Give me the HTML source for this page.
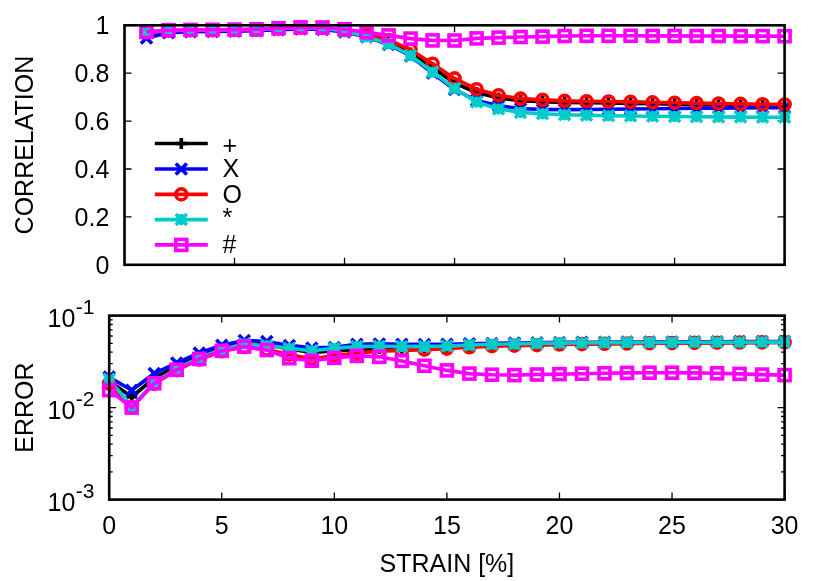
<!DOCTYPE html>
<html><head><meta charset="utf-8"><title>plot</title>
<style>html,body{margin:0;padding:0;background:#fff;}body{width:830px;height:581px;position:relative;overflow:hidden;font-family:"Liberation Sans",sans-serif;}</style>
</head><body>
<svg width="830" height="581" viewBox="0 0 830 581" style="display:block;position:absolute;left:0;top:0">
<rect width="830" height="581" fill="#ffffff"/>
<path d="M124.5 264.80h7.0M784.6 264.80h-7.0M124.5 216.90h7.0M784.6 216.90h-7.0M124.5 169.00h7.0M784.6 169.00h-7.0M124.5 121.10h7.0M784.6 121.10h-7.0M124.5 73.20h7.0M784.6 73.20h-7.0M124.5 25.30h7.0M784.6 25.30h-7.0M124.50 264.8v-7.0M124.50 25.3v7.0M234.52 264.8v-7.0M234.52 25.3v7.0M344.53 264.8v-7.0M344.53 25.3v7.0M454.55 264.8v-7.0M454.55 25.3v7.0M564.57 264.8v-7.0M564.57 25.3v7.0M674.58 264.8v-7.0M674.58 25.3v7.0M784.60 264.8v-7.0M784.60 25.3v7.0" stroke="#000" stroke-width="1.3" fill="none"/>
<g>
<polyline points="146.50,32.50 168.51,31.00 190.51,30.60 212.51,30.40 234.52,30.20 256.52,29.80 278.52,28.80 300.53,28.00 322.53,28.30 344.53,30.50 366.54,35.00 388.54,42.00 410.54,53.00 432.55,67.80 454.55,83.10 476.55,92.50 498.56,98.00 520.56,100.60 542.56,101.60 564.57,102.40 586.57,102.70 608.57,103.00 630.58,103.40 652.58,103.80 674.58,104.20 696.59,104.60 718.59,105.00 740.59,105.30 762.60,105.60 784.60,105.90" fill="none" stroke="#000000" stroke-width="3.6" stroke-linejoin="round"/>
<path d="M141.00 32.50H152.00M146.50 27.00V38.00" stroke="#000000" stroke-width="3.6" fill="none"/>
<path d="M163.01 31.00H174.01M168.51 25.50V36.50" stroke="#000000" stroke-width="3.6" fill="none"/>
<path d="M185.01 30.60H196.01M190.51 25.10V36.10" stroke="#000000" stroke-width="3.6" fill="none"/>
<path d="M207.01 30.40H218.01M212.51 24.90V35.90" stroke="#000000" stroke-width="3.6" fill="none"/>
<path d="M229.02 30.20H240.02M234.52 24.70V35.70" stroke="#000000" stroke-width="3.6" fill="none"/>
<path d="M251.02 29.80H262.02M256.52 24.30V35.30" stroke="#000000" stroke-width="3.6" fill="none"/>
<path d="M273.02 28.80H284.02M278.52 23.30V34.30" stroke="#000000" stroke-width="3.6" fill="none"/>
<path d="M295.03 28.00H306.03M300.53 22.50V33.50" stroke="#000000" stroke-width="3.6" fill="none"/>
<path d="M317.03 28.30H328.03M322.53 22.80V33.80" stroke="#000000" stroke-width="3.6" fill="none"/>
<path d="M339.03 30.50H350.03M344.53 25.00V36.00" stroke="#000000" stroke-width="3.6" fill="none"/>
<path d="M361.04 35.00H372.04M366.54 29.50V40.50" stroke="#000000" stroke-width="3.6" fill="none"/>
<path d="M383.04 42.00H394.04M388.54 36.50V47.50" stroke="#000000" stroke-width="3.6" fill="none"/>
<path d="M405.04 53.00H416.04M410.54 47.50V58.50" stroke="#000000" stroke-width="3.6" fill="none"/>
<path d="M427.05 67.80H438.05M432.55 62.30V73.30" stroke="#000000" stroke-width="3.6" fill="none"/>
<path d="M449.05 83.10H460.05M454.55 77.60V88.60" stroke="#000000" stroke-width="3.6" fill="none"/>
<path d="M471.05 92.50H482.05M476.55 87.00V98.00" stroke="#000000" stroke-width="3.6" fill="none"/>
<path d="M493.06 98.00H504.06M498.56 92.50V103.50" stroke="#000000" stroke-width="3.6" fill="none"/>
<path d="M515.06 100.60H526.06M520.56 95.10V106.10" stroke="#000000" stroke-width="3.6" fill="none"/>
<path d="M537.06 101.60H548.06M542.56 96.10V107.10" stroke="#000000" stroke-width="3.6" fill="none"/>
<path d="M559.07 102.40H570.07M564.57 96.90V107.90" stroke="#000000" stroke-width="3.6" fill="none"/>
<path d="M581.07 102.70H592.07M586.57 97.20V108.20" stroke="#000000" stroke-width="3.6" fill="none"/>
<path d="M603.07 103.00H614.07M608.57 97.50V108.50" stroke="#000000" stroke-width="3.6" fill="none"/>
<path d="M625.08 103.40H636.08M630.58 97.90V108.90" stroke="#000000" stroke-width="3.6" fill="none"/>
<path d="M647.08 103.80H658.08M652.58 98.30V109.30" stroke="#000000" stroke-width="3.6" fill="none"/>
<path d="M669.08 104.20H680.08M674.58 98.70V109.70" stroke="#000000" stroke-width="3.6" fill="none"/>
<path d="M691.09 104.60H702.09M696.59 99.10V110.10" stroke="#000000" stroke-width="3.6" fill="none"/>
<path d="M713.09 105.00H724.09M718.59 99.50V110.50" stroke="#000000" stroke-width="3.6" fill="none"/>
<path d="M735.09 105.30H746.09M740.59 99.80V110.80" stroke="#000000" stroke-width="3.6" fill="none"/>
<path d="M757.10 105.60H768.10M762.60 100.10V111.10" stroke="#000000" stroke-width="3.6" fill="none"/>
<path d="M779.10 105.90H790.10M784.60 100.40V111.40" stroke="#000000" stroke-width="3.6" fill="none"/>
<polyline points="146.50,38.00 168.51,32.80 190.51,31.80 212.51,31.50 234.52,31.20 256.52,30.80 278.52,29.80 300.53,29.00 322.53,29.50 344.53,32.00 366.54,37.00 388.54,44.50 410.54,56.00 432.55,73.00 454.55,89.50 476.55,100.50 498.56,105.80 520.56,108.50 542.56,109.50 564.57,109.60 586.57,109.50 608.57,109.30 630.58,109.00 652.58,108.70 674.58,108.50 696.59,108.30 718.59,108.10 740.59,108.00 762.60,107.80 784.60,107.70" fill="none" stroke="#0000ff" stroke-width="3.6" stroke-linejoin="round"/>
<path d="M141.00 32.50L152.00 43.50M141.00 43.50L152.00 32.50" stroke="#0000ff" stroke-width="3.6" fill="none"/>
<path d="M163.01 27.30L174.01 38.30M163.01 38.30L174.01 27.30" stroke="#0000ff" stroke-width="3.6" fill="none"/>
<path d="M185.01 26.30L196.01 37.30M185.01 37.30L196.01 26.30" stroke="#0000ff" stroke-width="3.6" fill="none"/>
<path d="M207.01 26.00L218.01 37.00M207.01 37.00L218.01 26.00" stroke="#0000ff" stroke-width="3.6" fill="none"/>
<path d="M229.02 25.70L240.02 36.70M229.02 36.70L240.02 25.70" stroke="#0000ff" stroke-width="3.6" fill="none"/>
<path d="M251.02 25.30L262.02 36.30M251.02 36.30L262.02 25.30" stroke="#0000ff" stroke-width="3.6" fill="none"/>
<path d="M273.02 24.30L284.02 35.30M273.02 35.30L284.02 24.30" stroke="#0000ff" stroke-width="3.6" fill="none"/>
<path d="M295.03 23.50L306.03 34.50M295.03 34.50L306.03 23.50" stroke="#0000ff" stroke-width="3.6" fill="none"/>
<path d="M317.03 24.00L328.03 35.00M317.03 35.00L328.03 24.00" stroke="#0000ff" stroke-width="3.6" fill="none"/>
<path d="M339.03 26.50L350.03 37.50M339.03 37.50L350.03 26.50" stroke="#0000ff" stroke-width="3.6" fill="none"/>
<path d="M361.04 31.50L372.04 42.50M361.04 42.50L372.04 31.50" stroke="#0000ff" stroke-width="3.6" fill="none"/>
<path d="M383.04 39.00L394.04 50.00M383.04 50.00L394.04 39.00" stroke="#0000ff" stroke-width="3.6" fill="none"/>
<path d="M405.04 50.50L416.04 61.50M405.04 61.50L416.04 50.50" stroke="#0000ff" stroke-width="3.6" fill="none"/>
<path d="M427.05 67.50L438.05 78.50M427.05 78.50L438.05 67.50" stroke="#0000ff" stroke-width="3.6" fill="none"/>
<path d="M449.05 84.00L460.05 95.00M449.05 95.00L460.05 84.00" stroke="#0000ff" stroke-width="3.6" fill="none"/>
<path d="M471.05 95.00L482.05 106.00M471.05 106.00L482.05 95.00" stroke="#0000ff" stroke-width="3.6" fill="none"/>
<path d="M493.06 100.30L504.06 111.30M493.06 111.30L504.06 100.30" stroke="#0000ff" stroke-width="3.6" fill="none"/>
<path d="M515.06 103.00L526.06 114.00M515.06 114.00L526.06 103.00" stroke="#0000ff" stroke-width="3.6" fill="none"/>
<path d="M537.06 104.00L548.06 115.00M537.06 115.00L548.06 104.00" stroke="#0000ff" stroke-width="3.6" fill="none"/>
<path d="M559.07 104.10L570.07 115.10M559.07 115.10L570.07 104.10" stroke="#0000ff" stroke-width="3.6" fill="none"/>
<path d="M581.07 104.00L592.07 115.00M581.07 115.00L592.07 104.00" stroke="#0000ff" stroke-width="3.6" fill="none"/>
<path d="M603.07 103.80L614.07 114.80M603.07 114.80L614.07 103.80" stroke="#0000ff" stroke-width="3.6" fill="none"/>
<path d="M625.08 103.50L636.08 114.50M625.08 114.50L636.08 103.50" stroke="#0000ff" stroke-width="3.6" fill="none"/>
<path d="M647.08 103.20L658.08 114.20M647.08 114.20L658.08 103.20" stroke="#0000ff" stroke-width="3.6" fill="none"/>
<path d="M669.08 103.00L680.08 114.00M669.08 114.00L680.08 103.00" stroke="#0000ff" stroke-width="3.6" fill="none"/>
<path d="M691.09 102.80L702.09 113.80M691.09 113.80L702.09 102.80" stroke="#0000ff" stroke-width="3.6" fill="none"/>
<path d="M713.09 102.60L724.09 113.60M713.09 113.60L724.09 102.60" stroke="#0000ff" stroke-width="3.6" fill="none"/>
<path d="M735.09 102.50L746.09 113.50M735.09 113.50L746.09 102.50" stroke="#0000ff" stroke-width="3.6" fill="none"/>
<path d="M757.10 102.30L768.10 113.30M757.10 113.30L768.10 102.30" stroke="#0000ff" stroke-width="3.6" fill="none"/>
<path d="M779.10 102.20L790.10 113.20M779.10 113.20L790.10 102.20" stroke="#0000ff" stroke-width="3.6" fill="none"/>
<polyline points="146.50,32.20 168.51,30.60 190.51,30.30 212.51,30.10 234.52,29.90 256.52,29.60 278.52,28.50 300.53,27.70 322.53,28.00 344.53,30.00 366.54,34.00 388.54,40.00 410.54,49.70 432.55,63.70 454.55,78.40 476.55,89.20 498.56,95.30 520.56,98.60 542.56,99.90 564.57,100.90 586.57,101.20 608.57,101.50 630.58,101.90 652.58,102.30 674.58,102.70 696.59,103.10 718.59,103.50 740.59,103.90 762.60,104.20 784.60,104.50" fill="none" stroke="#ff0000" stroke-width="3.6" stroke-linejoin="round"/>
<circle cx="146.50" cy="32.20" r="5.50" stroke="#ff0000" stroke-width="3.6" fill="none"/>
<circle cx="168.51" cy="30.60" r="5.50" stroke="#ff0000" stroke-width="3.6" fill="none"/>
<circle cx="190.51" cy="30.30" r="5.50" stroke="#ff0000" stroke-width="3.6" fill="none"/>
<circle cx="212.51" cy="30.10" r="5.50" stroke="#ff0000" stroke-width="3.6" fill="none"/>
<circle cx="234.52" cy="29.90" r="5.50" stroke="#ff0000" stroke-width="3.6" fill="none"/>
<circle cx="256.52" cy="29.60" r="5.50" stroke="#ff0000" stroke-width="3.6" fill="none"/>
<circle cx="278.52" cy="28.50" r="5.50" stroke="#ff0000" stroke-width="3.6" fill="none"/>
<circle cx="300.53" cy="27.70" r="5.50" stroke="#ff0000" stroke-width="3.6" fill="none"/>
<circle cx="322.53" cy="28.00" r="5.50" stroke="#ff0000" stroke-width="3.6" fill="none"/>
<circle cx="344.53" cy="30.00" r="5.50" stroke="#ff0000" stroke-width="3.6" fill="none"/>
<circle cx="366.54" cy="34.00" r="5.50" stroke="#ff0000" stroke-width="3.6" fill="none"/>
<circle cx="388.54" cy="40.00" r="5.50" stroke="#ff0000" stroke-width="3.6" fill="none"/>
<circle cx="410.54" cy="49.70" r="5.50" stroke="#ff0000" stroke-width="3.6" fill="none"/>
<circle cx="432.55" cy="63.70" r="5.50" stroke="#ff0000" stroke-width="3.6" fill="none"/>
<circle cx="454.55" cy="78.40" r="5.50" stroke="#ff0000" stroke-width="3.6" fill="none"/>
<circle cx="476.55" cy="89.20" r="5.50" stroke="#ff0000" stroke-width="3.6" fill="none"/>
<circle cx="498.56" cy="95.30" r="5.50" stroke="#ff0000" stroke-width="3.6" fill="none"/>
<circle cx="520.56" cy="98.60" r="5.50" stroke="#ff0000" stroke-width="3.6" fill="none"/>
<circle cx="542.56" cy="99.90" r="5.50" stroke="#ff0000" stroke-width="3.6" fill="none"/>
<circle cx="564.57" cy="100.90" r="5.50" stroke="#ff0000" stroke-width="3.6" fill="none"/>
<circle cx="586.57" cy="101.20" r="5.50" stroke="#ff0000" stroke-width="3.6" fill="none"/>
<circle cx="608.57" cy="101.50" r="5.50" stroke="#ff0000" stroke-width="3.6" fill="none"/>
<circle cx="630.58" cy="101.90" r="5.50" stroke="#ff0000" stroke-width="3.6" fill="none"/>
<circle cx="652.58" cy="102.30" r="5.50" stroke="#ff0000" stroke-width="3.6" fill="none"/>
<circle cx="674.58" cy="102.70" r="5.50" stroke="#ff0000" stroke-width="3.6" fill="none"/>
<circle cx="696.59" cy="103.10" r="5.50" stroke="#ff0000" stroke-width="3.6" fill="none"/>
<circle cx="718.59" cy="103.50" r="5.50" stroke="#ff0000" stroke-width="3.6" fill="none"/>
<circle cx="740.59" cy="103.90" r="5.50" stroke="#ff0000" stroke-width="3.6" fill="none"/>
<circle cx="762.60" cy="104.20" r="5.50" stroke="#ff0000" stroke-width="3.6" fill="none"/>
<circle cx="784.60" cy="104.50" r="5.50" stroke="#ff0000" stroke-width="3.6" fill="none"/>
<polyline points="146.50,31.90 168.51,30.40 190.51,30.10 212.51,29.90 234.52,29.70 256.52,29.40 278.52,28.40 300.53,27.60 322.53,28.30 344.53,31.00 366.54,36.70 388.54,43.70 410.54,55.50 432.55,71.90 454.55,88.60 476.55,102.00 498.56,109.00 520.56,112.40 542.56,113.70 564.57,114.70 586.57,115.30 608.57,115.70 630.58,116.00 652.58,116.30 674.58,116.50 696.59,116.70 718.59,116.90 740.59,117.10 762.60,117.20 784.60,117.30" fill="none" stroke="#00cbcb" stroke-width="3.6" stroke-linejoin="round"/>
<path d="M141.00 31.90H152.00M146.50 26.40V37.40M141.00 26.40L152.00 37.40M141.00 37.40L152.00 26.40" stroke="#00cbcb" stroke-width="3.6" fill="none"/>
<path d="M163.01 30.40H174.01M168.51 24.90V35.90M163.01 24.90L174.01 35.90M163.01 35.90L174.01 24.90" stroke="#00cbcb" stroke-width="3.6" fill="none"/>
<path d="M185.01 30.10H196.01M190.51 24.60V35.60M185.01 24.60L196.01 35.60M185.01 35.60L196.01 24.60" stroke="#00cbcb" stroke-width="3.6" fill="none"/>
<path d="M207.01 29.90H218.01M212.51 24.40V35.40M207.01 24.40L218.01 35.40M207.01 35.40L218.01 24.40" stroke="#00cbcb" stroke-width="3.6" fill="none"/>
<path d="M229.02 29.70H240.02M234.52 24.20V35.20M229.02 24.20L240.02 35.20M229.02 35.20L240.02 24.20" stroke="#00cbcb" stroke-width="3.6" fill="none"/>
<path d="M251.02 29.40H262.02M256.52 23.90V34.90M251.02 23.90L262.02 34.90M251.02 34.90L262.02 23.90" stroke="#00cbcb" stroke-width="3.6" fill="none"/>
<path d="M273.02 28.40H284.02M278.52 22.90V33.90M273.02 22.90L284.02 33.90M273.02 33.90L284.02 22.90" stroke="#00cbcb" stroke-width="3.6" fill="none"/>
<path d="M295.03 27.60H306.03M300.53 22.10V33.10M295.03 22.10L306.03 33.10M295.03 33.10L306.03 22.10" stroke="#00cbcb" stroke-width="3.6" fill="none"/>
<path d="M317.03 28.30H328.03M322.53 22.80V33.80M317.03 22.80L328.03 33.80M317.03 33.80L328.03 22.80" stroke="#00cbcb" stroke-width="3.6" fill="none"/>
<path d="M339.03 31.00H350.03M344.53 25.50V36.50M339.03 25.50L350.03 36.50M339.03 36.50L350.03 25.50" stroke="#00cbcb" stroke-width="3.6" fill="none"/>
<path d="M361.04 36.70H372.04M366.54 31.20V42.20M361.04 31.20L372.04 42.20M361.04 42.20L372.04 31.20" stroke="#00cbcb" stroke-width="3.6" fill="none"/>
<path d="M383.04 43.70H394.04M388.54 38.20V49.20M383.04 38.20L394.04 49.20M383.04 49.20L394.04 38.20" stroke="#00cbcb" stroke-width="3.6" fill="none"/>
<path d="M405.04 55.50H416.04M410.54 50.00V61.00M405.04 50.00L416.04 61.00M405.04 61.00L416.04 50.00" stroke="#00cbcb" stroke-width="3.6" fill="none"/>
<path d="M427.05 71.90H438.05M432.55 66.40V77.40M427.05 66.40L438.05 77.40M427.05 77.40L438.05 66.40" stroke="#00cbcb" stroke-width="3.6" fill="none"/>
<path d="M449.05 88.60H460.05M454.55 83.10V94.10M449.05 83.10L460.05 94.10M449.05 94.10L460.05 83.10" stroke="#00cbcb" stroke-width="3.6" fill="none"/>
<path d="M471.05 102.00H482.05M476.55 96.50V107.50M471.05 96.50L482.05 107.50M471.05 107.50L482.05 96.50" stroke="#00cbcb" stroke-width="3.6" fill="none"/>
<path d="M493.06 109.00H504.06M498.56 103.50V114.50M493.06 103.50L504.06 114.50M493.06 114.50L504.06 103.50" stroke="#00cbcb" stroke-width="3.6" fill="none"/>
<path d="M515.06 112.40H526.06M520.56 106.90V117.90M515.06 106.90L526.06 117.90M515.06 117.90L526.06 106.90" stroke="#00cbcb" stroke-width="3.6" fill="none"/>
<path d="M537.06 113.70H548.06M542.56 108.20V119.20M537.06 108.20L548.06 119.20M537.06 119.20L548.06 108.20" stroke="#00cbcb" stroke-width="3.6" fill="none"/>
<path d="M559.07 114.70H570.07M564.57 109.20V120.20M559.07 109.20L570.07 120.20M559.07 120.20L570.07 109.20" stroke="#00cbcb" stroke-width="3.6" fill="none"/>
<path d="M581.07 115.30H592.07M586.57 109.80V120.80M581.07 109.80L592.07 120.80M581.07 120.80L592.07 109.80" stroke="#00cbcb" stroke-width="3.6" fill="none"/>
<path d="M603.07 115.70H614.07M608.57 110.20V121.20M603.07 110.20L614.07 121.20M603.07 121.20L614.07 110.20" stroke="#00cbcb" stroke-width="3.6" fill="none"/>
<path d="M625.08 116.00H636.08M630.58 110.50V121.50M625.08 110.50L636.08 121.50M625.08 121.50L636.08 110.50" stroke="#00cbcb" stroke-width="3.6" fill="none"/>
<path d="M647.08 116.30H658.08M652.58 110.80V121.80M647.08 110.80L658.08 121.80M647.08 121.80L658.08 110.80" stroke="#00cbcb" stroke-width="3.6" fill="none"/>
<path d="M669.08 116.50H680.08M674.58 111.00V122.00M669.08 111.00L680.08 122.00M669.08 122.00L680.08 111.00" stroke="#00cbcb" stroke-width="3.6" fill="none"/>
<path d="M691.09 116.70H702.09M696.59 111.20V122.20M691.09 111.20L702.09 122.20M691.09 122.20L702.09 111.20" stroke="#00cbcb" stroke-width="3.6" fill="none"/>
<path d="M713.09 116.90H724.09M718.59 111.40V122.40M713.09 111.40L724.09 122.40M713.09 122.40L724.09 111.40" stroke="#00cbcb" stroke-width="3.6" fill="none"/>
<path d="M735.09 117.10H746.09M740.59 111.60V122.60M735.09 111.60L746.09 122.60M735.09 122.60L746.09 111.60" stroke="#00cbcb" stroke-width="3.6" fill="none"/>
<path d="M757.10 117.20H768.10M762.60 111.70V122.70M757.10 111.70L768.10 122.70M757.10 122.70L768.10 111.70" stroke="#00cbcb" stroke-width="3.6" fill="none"/>
<path d="M779.10 117.30H790.10M784.60 111.80V122.80M779.10 111.80L790.10 122.80M779.10 122.80L790.10 111.80" stroke="#00cbcb" stroke-width="3.6" fill="none"/>
<polyline points="146.50,31.90 168.51,30.20 190.51,29.90 212.51,29.80 234.52,29.60 256.52,29.30 278.52,28.20 300.53,27.40 322.53,27.50 344.53,29.20 366.54,32.40 388.54,35.40 410.54,38.60 432.55,40.40 454.55,40.50 476.55,38.40 498.56,37.60 520.56,37.00 542.56,36.60 564.57,36.00 586.57,35.80 608.57,35.80 630.58,35.80 652.58,35.90 674.58,35.90 696.59,36.00 718.59,36.00 740.59,36.10 762.60,36.10 784.60,36.20" fill="none" stroke="#ff00ff" stroke-width="3.6" stroke-linejoin="round"/>
<rect x="141.00" y="26.40" width="11.00" height="11.00" stroke="#ff00ff" stroke-width="3.6" fill="none"/>
<rect x="163.01" y="24.70" width="11.00" height="11.00" stroke="#ff00ff" stroke-width="3.6" fill="none"/>
<rect x="185.01" y="24.40" width="11.00" height="11.00" stroke="#ff00ff" stroke-width="3.6" fill="none"/>
<rect x="207.01" y="24.30" width="11.00" height="11.00" stroke="#ff00ff" stroke-width="3.6" fill="none"/>
<rect x="229.02" y="24.10" width="11.00" height="11.00" stroke="#ff00ff" stroke-width="3.6" fill="none"/>
<rect x="251.02" y="23.80" width="11.00" height="11.00" stroke="#ff00ff" stroke-width="3.6" fill="none"/>
<rect x="273.02" y="22.70" width="11.00" height="11.00" stroke="#ff00ff" stroke-width="3.6" fill="none"/>
<rect x="295.03" y="21.90" width="11.00" height="11.00" stroke="#ff00ff" stroke-width="3.6" fill="none"/>
<rect x="317.03" y="22.00" width="11.00" height="11.00" stroke="#ff00ff" stroke-width="3.6" fill="none"/>
<rect x="339.03" y="23.70" width="11.00" height="11.00" stroke="#ff00ff" stroke-width="3.6" fill="none"/>
<rect x="361.04" y="26.90" width="11.00" height="11.00" stroke="#ff00ff" stroke-width="3.6" fill="none"/>
<rect x="383.04" y="29.90" width="11.00" height="11.00" stroke="#ff00ff" stroke-width="3.6" fill="none"/>
<rect x="405.04" y="33.10" width="11.00" height="11.00" stroke="#ff00ff" stroke-width="3.6" fill="none"/>
<rect x="427.05" y="34.90" width="11.00" height="11.00" stroke="#ff00ff" stroke-width="3.6" fill="none"/>
<rect x="449.05" y="35.00" width="11.00" height="11.00" stroke="#ff00ff" stroke-width="3.6" fill="none"/>
<rect x="471.05" y="32.90" width="11.00" height="11.00" stroke="#ff00ff" stroke-width="3.6" fill="none"/>
<rect x="493.06" y="32.10" width="11.00" height="11.00" stroke="#ff00ff" stroke-width="3.6" fill="none"/>
<rect x="515.06" y="31.50" width="11.00" height="11.00" stroke="#ff00ff" stroke-width="3.6" fill="none"/>
<rect x="537.06" y="31.10" width="11.00" height="11.00" stroke="#ff00ff" stroke-width="3.6" fill="none"/>
<rect x="559.07" y="30.50" width="11.00" height="11.00" stroke="#ff00ff" stroke-width="3.6" fill="none"/>
<rect x="581.07" y="30.30" width="11.00" height="11.00" stroke="#ff00ff" stroke-width="3.6" fill="none"/>
<rect x="603.07" y="30.30" width="11.00" height="11.00" stroke="#ff00ff" stroke-width="3.6" fill="none"/>
<rect x="625.08" y="30.30" width="11.00" height="11.00" stroke="#ff00ff" stroke-width="3.6" fill="none"/>
<rect x="647.08" y="30.40" width="11.00" height="11.00" stroke="#ff00ff" stroke-width="3.6" fill="none"/>
<rect x="669.08" y="30.40" width="11.00" height="11.00" stroke="#ff00ff" stroke-width="3.6" fill="none"/>
<rect x="691.09" y="30.50" width="11.00" height="11.00" stroke="#ff00ff" stroke-width="3.6" fill="none"/>
<rect x="713.09" y="30.50" width="11.00" height="11.00" stroke="#ff00ff" stroke-width="3.6" fill="none"/>
<rect x="735.09" y="30.60" width="11.00" height="11.00" stroke="#ff00ff" stroke-width="3.6" fill="none"/>
<rect x="757.10" y="30.60" width="11.00" height="11.00" stroke="#ff00ff" stroke-width="3.6" fill="none"/>
<rect x="779.10" y="30.70" width="11.00" height="11.00" stroke="#ff00ff" stroke-width="3.6" fill="none"/>
</g>
<path d="M154.8 143.5H207.8" stroke="#000000" stroke-width="3.6" fill="none"/>
<path d="M175.80 143.50H186.80M181.30 138.00V149.00" stroke="#000000" stroke-width="3.6" fill="none"/>
<path d="M154.8 169.0H207.8" stroke="#0000ff" stroke-width="3.6" fill="none"/>
<path d="M175.80 163.50L186.80 174.50M175.80 174.50L186.80 163.50" stroke="#0000ff" stroke-width="3.6" fill="none"/>
<path d="M154.8 194.4H207.8" stroke="#ff0000" stroke-width="3.6" fill="none"/>
<circle cx="181.30" cy="194.40" r="5.50" stroke="#ff0000" stroke-width="3.6" fill="none"/>
<path d="M154.8 219.6H207.8" stroke="#00cbcb" stroke-width="3.6" fill="none"/>
<path d="M175.80 219.60H186.80M181.30 214.10V225.10M175.80 214.10L186.80 225.10M175.80 225.10L186.80 214.10" stroke="#00cbcb" stroke-width="3.6" fill="none"/>
<path d="M154.8 244.9H207.8" stroke="#ff00ff" stroke-width="3.6" fill="none"/>
<rect x="175.80" y="239.40" width="11.00" height="11.00" stroke="#ff00ff" stroke-width="3.6" fill="none"/>
<rect x="124.5" y="25.3" width="660.1" height="239.5" fill="none" stroke="#000" stroke-width="2.6"/>
<path d="M109.2 315.60h7.0M784.6 315.60h-7.0M109.2 379.91h3.5M784.6 379.91h-3.5M109.2 363.70h3.5M784.6 363.70h-3.5M109.2 352.21h3.5M784.6 352.21h-3.5M109.2 343.29h3.5M784.6 343.29h-3.5M109.2 336.01h3.5M784.6 336.01h-3.5M109.2 329.85h3.5M784.6 329.85h-3.5M109.2 324.52h3.5M784.6 324.52h-3.5M109.2 319.81h3.5M784.6 319.81h-3.5M109.2 407.60h7.0M784.6 407.60h-7.0M109.2 471.91h3.5M784.6 471.91h-3.5M109.2 455.70h3.5M784.6 455.70h-3.5M109.2 444.21h3.5M784.6 444.21h-3.5M109.2 435.29h3.5M784.6 435.29h-3.5M109.2 428.01h3.5M784.6 428.01h-3.5M109.2 421.85h3.5M784.6 421.85h-3.5M109.2 416.52h3.5M784.6 416.52h-3.5M109.2 411.81h3.5M784.6 411.81h-3.5M109.2 499.60h7.0M784.6 499.60h-7.0M109.20 499.6v-7.0M109.20 315.6v7.0M221.77 499.6v-7.0M221.77 315.6v7.0M334.33 499.6v-7.0M334.33 315.6v7.0M446.90 499.6v-7.0M446.90 315.6v7.0M559.47 499.6v-7.0M559.47 315.6v7.0M672.03 499.6v-7.0M672.03 315.6v7.0M784.60 499.6v-7.0M784.60 315.6v7.0" stroke="#000" stroke-width="1.3" fill="none"/>
<g>
<polyline points="109.20,381.00 131.71,397.00 154.23,378.00 176.74,366.00 199.25,356.00 221.77,348.00 244.28,343.50 266.79,345.00 289.31,349.00 311.82,352.40 334.33,351.00 356.85,349.50 379.36,348.60 401.87,348.20 424.39,347.80 446.90,347.40 469.41,346.60 491.93,345.80 514.44,345.20 536.95,344.60 559.47,344.10 581.98,343.80 604.49,343.60 627.01,343.40 649.52,343.20 672.03,343.00 694.55,342.80 717.06,342.70 739.57,342.60 762.09,342.50 784.60,342.40" fill="none" stroke="#000000" stroke-width="3.6" stroke-linejoin="round"/>
<path d="M103.70 381.00H114.70M109.20 375.50V386.50" stroke="#000000" stroke-width="3.6" fill="none"/>
<path d="M126.21 397.00H137.21M131.71 391.50V402.50" stroke="#000000" stroke-width="3.6" fill="none"/>
<path d="M148.73 378.00H159.73M154.23 372.50V383.50" stroke="#000000" stroke-width="3.6" fill="none"/>
<path d="M171.24 366.00H182.24M176.74 360.50V371.50" stroke="#000000" stroke-width="3.6" fill="none"/>
<path d="M193.75 356.00H204.75M199.25 350.50V361.50" stroke="#000000" stroke-width="3.6" fill="none"/>
<path d="M216.27 348.00H227.27M221.77 342.50V353.50" stroke="#000000" stroke-width="3.6" fill="none"/>
<path d="M238.78 343.50H249.78M244.28 338.00V349.00" stroke="#000000" stroke-width="3.6" fill="none"/>
<path d="M261.29 345.00H272.29M266.79 339.50V350.50" stroke="#000000" stroke-width="3.6" fill="none"/>
<path d="M283.81 349.00H294.81M289.31 343.50V354.50" stroke="#000000" stroke-width="3.6" fill="none"/>
<path d="M306.32 352.40H317.32M311.82 346.90V357.90" stroke="#000000" stroke-width="3.6" fill="none"/>
<path d="M328.83 351.00H339.83M334.33 345.50V356.50" stroke="#000000" stroke-width="3.6" fill="none"/>
<path d="M351.35 349.50H362.35M356.85 344.00V355.00" stroke="#000000" stroke-width="3.6" fill="none"/>
<path d="M373.86 348.60H384.86M379.36 343.10V354.10" stroke="#000000" stroke-width="3.6" fill="none"/>
<path d="M396.37 348.20H407.37M401.87 342.70V353.70" stroke="#000000" stroke-width="3.6" fill="none"/>
<path d="M418.89 347.80H429.89M424.39 342.30V353.30" stroke="#000000" stroke-width="3.6" fill="none"/>
<path d="M441.40 347.40H452.40M446.90 341.90V352.90" stroke="#000000" stroke-width="3.6" fill="none"/>
<path d="M463.91 346.60H474.91M469.41 341.10V352.10" stroke="#000000" stroke-width="3.6" fill="none"/>
<path d="M486.43 345.80H497.43M491.93 340.30V351.30" stroke="#000000" stroke-width="3.6" fill="none"/>
<path d="M508.94 345.20H519.94M514.44 339.70V350.70" stroke="#000000" stroke-width="3.6" fill="none"/>
<path d="M531.45 344.60H542.45M536.95 339.10V350.10" stroke="#000000" stroke-width="3.6" fill="none"/>
<path d="M553.97 344.10H564.97M559.47 338.60V349.60" stroke="#000000" stroke-width="3.6" fill="none"/>
<path d="M576.48 343.80H587.48M581.98 338.30V349.30" stroke="#000000" stroke-width="3.6" fill="none"/>
<path d="M598.99 343.60H609.99M604.49 338.10V349.10" stroke="#000000" stroke-width="3.6" fill="none"/>
<path d="M621.51 343.40H632.51M627.01 337.90V348.90" stroke="#000000" stroke-width="3.6" fill="none"/>
<path d="M644.02 343.20H655.02M649.52 337.70V348.70" stroke="#000000" stroke-width="3.6" fill="none"/>
<path d="M666.53 343.00H677.53M672.03 337.50V348.50" stroke="#000000" stroke-width="3.6" fill="none"/>
<path d="M689.05 342.80H700.05M694.55 337.30V348.30" stroke="#000000" stroke-width="3.6" fill="none"/>
<path d="M711.56 342.70H722.56M717.06 337.20V348.20" stroke="#000000" stroke-width="3.6" fill="none"/>
<path d="M734.07 342.60H745.07M739.57 337.10V348.10" stroke="#000000" stroke-width="3.6" fill="none"/>
<path d="M756.59 342.50H767.59M762.09 337.00V348.00" stroke="#000000" stroke-width="3.6" fill="none"/>
<path d="M779.10 342.40H790.10M784.60 336.90V347.90" stroke="#000000" stroke-width="3.6" fill="none"/>
<polyline points="109.20,377.10 131.71,390.20 154.23,373.50 176.74,363.00 199.25,353.00 221.77,345.20 244.28,340.40 266.79,341.50 289.31,345.40 311.82,347.90 334.33,347.40 356.85,344.20 379.36,343.90 401.87,344.30 424.39,344.40 446.90,344.20 469.41,343.80 491.93,343.40 514.44,343.00 536.95,342.70 559.47,342.40 581.98,342.30 604.49,342.20 627.01,342.10 649.52,342.00 672.03,341.90 694.55,341.80 717.06,341.70 739.57,341.60 762.09,341.50 784.60,341.50" fill="none" stroke="#0000ff" stroke-width="3.6" stroke-linejoin="round"/>
<path d="M103.70 371.60L114.70 382.60M103.70 382.60L114.70 371.60" stroke="#0000ff" stroke-width="3.6" fill="none"/>
<path d="M126.21 384.70L137.21 395.70M126.21 395.70L137.21 384.70" stroke="#0000ff" stroke-width="3.6" fill="none"/>
<path d="M148.73 368.00L159.73 379.00M148.73 379.00L159.73 368.00" stroke="#0000ff" stroke-width="3.6" fill="none"/>
<path d="M171.24 357.50L182.24 368.50M171.24 368.50L182.24 357.50" stroke="#0000ff" stroke-width="3.6" fill="none"/>
<path d="M193.75 347.50L204.75 358.50M193.75 358.50L204.75 347.50" stroke="#0000ff" stroke-width="3.6" fill="none"/>
<path d="M216.27 339.70L227.27 350.70M216.27 350.70L227.27 339.70" stroke="#0000ff" stroke-width="3.6" fill="none"/>
<path d="M238.78 334.90L249.78 345.90M238.78 345.90L249.78 334.90" stroke="#0000ff" stroke-width="3.6" fill="none"/>
<path d="M261.29 336.00L272.29 347.00M261.29 347.00L272.29 336.00" stroke="#0000ff" stroke-width="3.6" fill="none"/>
<path d="M283.81 339.90L294.81 350.90M283.81 350.90L294.81 339.90" stroke="#0000ff" stroke-width="3.6" fill="none"/>
<path d="M306.32 342.40L317.32 353.40M306.32 353.40L317.32 342.40" stroke="#0000ff" stroke-width="3.6" fill="none"/>
<path d="M328.83 341.90L339.83 352.90M328.83 352.90L339.83 341.90" stroke="#0000ff" stroke-width="3.6" fill="none"/>
<path d="M351.35 338.70L362.35 349.70M351.35 349.70L362.35 338.70" stroke="#0000ff" stroke-width="3.6" fill="none"/>
<path d="M373.86 338.40L384.86 349.40M373.86 349.40L384.86 338.40" stroke="#0000ff" stroke-width="3.6" fill="none"/>
<path d="M396.37 338.80L407.37 349.80M396.37 349.80L407.37 338.80" stroke="#0000ff" stroke-width="3.6" fill="none"/>
<path d="M418.89 338.90L429.89 349.90M418.89 349.90L429.89 338.90" stroke="#0000ff" stroke-width="3.6" fill="none"/>
<path d="M441.40 338.70L452.40 349.70M441.40 349.70L452.40 338.70" stroke="#0000ff" stroke-width="3.6" fill="none"/>
<path d="M463.91 338.30L474.91 349.30M463.91 349.30L474.91 338.30" stroke="#0000ff" stroke-width="3.6" fill="none"/>
<path d="M486.43 337.90L497.43 348.90M486.43 348.90L497.43 337.90" stroke="#0000ff" stroke-width="3.6" fill="none"/>
<path d="M508.94 337.50L519.94 348.50M508.94 348.50L519.94 337.50" stroke="#0000ff" stroke-width="3.6" fill="none"/>
<path d="M531.45 337.20L542.45 348.20M531.45 348.20L542.45 337.20" stroke="#0000ff" stroke-width="3.6" fill="none"/>
<path d="M553.97 336.90L564.97 347.90M553.97 347.90L564.97 336.90" stroke="#0000ff" stroke-width="3.6" fill="none"/>
<path d="M576.48 336.80L587.48 347.80M576.48 347.80L587.48 336.80" stroke="#0000ff" stroke-width="3.6" fill="none"/>
<path d="M598.99 336.70L609.99 347.70M598.99 347.70L609.99 336.70" stroke="#0000ff" stroke-width="3.6" fill="none"/>
<path d="M621.51 336.60L632.51 347.60M621.51 347.60L632.51 336.60" stroke="#0000ff" stroke-width="3.6" fill="none"/>
<path d="M644.02 336.50L655.02 347.50M644.02 347.50L655.02 336.50" stroke="#0000ff" stroke-width="3.6" fill="none"/>
<path d="M666.53 336.40L677.53 347.40M666.53 347.40L677.53 336.40" stroke="#0000ff" stroke-width="3.6" fill="none"/>
<path d="M689.05 336.30L700.05 347.30M689.05 347.30L700.05 336.30" stroke="#0000ff" stroke-width="3.6" fill="none"/>
<path d="M711.56 336.20L722.56 347.20M711.56 347.20L722.56 336.20" stroke="#0000ff" stroke-width="3.6" fill="none"/>
<path d="M734.07 336.10L745.07 347.10M734.07 347.10L745.07 336.10" stroke="#0000ff" stroke-width="3.6" fill="none"/>
<path d="M756.59 336.00L767.59 347.00M756.59 347.00L767.59 336.00" stroke="#0000ff" stroke-width="3.6" fill="none"/>
<path d="M779.10 336.00L790.10 347.00M779.10 347.00L790.10 336.00" stroke="#0000ff" stroke-width="3.6" fill="none"/>
<polyline points="109.20,383.50 131.71,407.00 154.23,383.60 176.74,370.20 199.25,359.50 221.77,351.30 244.28,347.00 266.79,349.50 289.31,354.50 311.82,359.00 334.33,355.50 356.85,353.00 379.36,351.30 401.87,350.40 424.39,349.60 446.90,348.60 469.41,347.30 491.93,346.20 514.44,345.70 536.95,345.10 559.47,344.50 581.98,344.10 604.49,343.80 627.01,343.50 649.52,343.30 672.03,343.10 694.55,342.90 717.06,342.70 739.57,342.50 762.09,342.40 784.60,342.30" fill="none" stroke="#ff0000" stroke-width="3.6" stroke-linejoin="round"/>
<circle cx="109.20" cy="383.50" r="5.50" stroke="#ff0000" stroke-width="3.6" fill="none"/>
<circle cx="131.71" cy="407.00" r="5.50" stroke="#ff0000" stroke-width="3.6" fill="none"/>
<circle cx="154.23" cy="383.60" r="5.50" stroke="#ff0000" stroke-width="3.6" fill="none"/>
<circle cx="176.74" cy="370.20" r="5.50" stroke="#ff0000" stroke-width="3.6" fill="none"/>
<circle cx="199.25" cy="359.50" r="5.50" stroke="#ff0000" stroke-width="3.6" fill="none"/>
<circle cx="221.77" cy="351.30" r="5.50" stroke="#ff0000" stroke-width="3.6" fill="none"/>
<circle cx="244.28" cy="347.00" r="5.50" stroke="#ff0000" stroke-width="3.6" fill="none"/>
<circle cx="266.79" cy="349.50" r="5.50" stroke="#ff0000" stroke-width="3.6" fill="none"/>
<circle cx="289.31" cy="354.50" r="5.50" stroke="#ff0000" stroke-width="3.6" fill="none"/>
<circle cx="311.82" cy="359.00" r="5.50" stroke="#ff0000" stroke-width="3.6" fill="none"/>
<circle cx="334.33" cy="355.50" r="5.50" stroke="#ff0000" stroke-width="3.6" fill="none"/>
<circle cx="356.85" cy="353.00" r="5.50" stroke="#ff0000" stroke-width="3.6" fill="none"/>
<circle cx="379.36" cy="351.30" r="5.50" stroke="#ff0000" stroke-width="3.6" fill="none"/>
<circle cx="401.87" cy="350.40" r="5.50" stroke="#ff0000" stroke-width="3.6" fill="none"/>
<circle cx="424.39" cy="349.60" r="5.50" stroke="#ff0000" stroke-width="3.6" fill="none"/>
<circle cx="446.90" cy="348.60" r="5.50" stroke="#ff0000" stroke-width="3.6" fill="none"/>
<circle cx="469.41" cy="347.30" r="5.50" stroke="#ff0000" stroke-width="3.6" fill="none"/>
<circle cx="491.93" cy="346.20" r="5.50" stroke="#ff0000" stroke-width="3.6" fill="none"/>
<circle cx="514.44" cy="345.70" r="5.50" stroke="#ff0000" stroke-width="3.6" fill="none"/>
<circle cx="536.95" cy="345.10" r="5.50" stroke="#ff0000" stroke-width="3.6" fill="none"/>
<circle cx="559.47" cy="344.50" r="5.50" stroke="#ff0000" stroke-width="3.6" fill="none"/>
<circle cx="581.98" cy="344.10" r="5.50" stroke="#ff0000" stroke-width="3.6" fill="none"/>
<circle cx="604.49" cy="343.80" r="5.50" stroke="#ff0000" stroke-width="3.6" fill="none"/>
<circle cx="627.01" cy="343.50" r="5.50" stroke="#ff0000" stroke-width="3.6" fill="none"/>
<circle cx="649.52" cy="343.30" r="5.50" stroke="#ff0000" stroke-width="3.6" fill="none"/>
<circle cx="672.03" cy="343.10" r="5.50" stroke="#ff0000" stroke-width="3.6" fill="none"/>
<circle cx="694.55" cy="342.90" r="5.50" stroke="#ff0000" stroke-width="3.6" fill="none"/>
<circle cx="717.06" cy="342.70" r="5.50" stroke="#ff0000" stroke-width="3.6" fill="none"/>
<circle cx="739.57" cy="342.50" r="5.50" stroke="#ff0000" stroke-width="3.6" fill="none"/>
<circle cx="762.09" cy="342.40" r="5.50" stroke="#ff0000" stroke-width="3.6" fill="none"/>
<circle cx="784.60" cy="342.30" r="5.50" stroke="#ff0000" stroke-width="3.6" fill="none"/>
<polyline points="109.20,379.30 131.71,406.50 154.23,382.50 176.74,368.70 199.25,357.80 221.77,349.50 244.28,344.00 266.79,345.70 289.31,348.40 311.82,350.80 334.33,348.40 356.85,346.60 379.36,346.20 401.87,346.60 424.39,346.40 446.90,346.10 469.41,345.00 491.93,344.30 514.44,343.90 536.95,343.40 559.47,343.10 581.98,342.90 604.49,342.80 627.01,342.60 649.52,342.50 672.03,342.40 694.55,342.30 717.06,342.20 739.57,342.20 762.09,342.10 784.60,342.10" fill="none" stroke="#00cbcb" stroke-width="3.6" stroke-linejoin="round"/>
<path d="M103.70 379.30H114.70M109.20 373.80V384.80M103.70 373.80L114.70 384.80M103.70 384.80L114.70 373.80" stroke="#00cbcb" stroke-width="3.6" fill="none"/>
<path d="M126.21 406.50H137.21M131.71 401.00V412.00M126.21 401.00L137.21 412.00M126.21 412.00L137.21 401.00" stroke="#00cbcb" stroke-width="3.6" fill="none"/>
<path d="M148.73 382.50H159.73M154.23 377.00V388.00M148.73 377.00L159.73 388.00M148.73 388.00L159.73 377.00" stroke="#00cbcb" stroke-width="3.6" fill="none"/>
<path d="M171.24 368.70H182.24M176.74 363.20V374.20M171.24 363.20L182.24 374.20M171.24 374.20L182.24 363.20" stroke="#00cbcb" stroke-width="3.6" fill="none"/>
<path d="M193.75 357.80H204.75M199.25 352.30V363.30M193.75 352.30L204.75 363.30M193.75 363.30L204.75 352.30" stroke="#00cbcb" stroke-width="3.6" fill="none"/>
<path d="M216.27 349.50H227.27M221.77 344.00V355.00M216.27 344.00L227.27 355.00M216.27 355.00L227.27 344.00" stroke="#00cbcb" stroke-width="3.6" fill="none"/>
<path d="M238.78 344.00H249.78M244.28 338.50V349.50M238.78 338.50L249.78 349.50M238.78 349.50L249.78 338.50" stroke="#00cbcb" stroke-width="3.6" fill="none"/>
<path d="M261.29 345.70H272.29M266.79 340.20V351.20M261.29 340.20L272.29 351.20M261.29 351.20L272.29 340.20" stroke="#00cbcb" stroke-width="3.6" fill="none"/>
<path d="M283.81 348.40H294.81M289.31 342.90V353.90M283.81 342.90L294.81 353.90M283.81 353.90L294.81 342.90" stroke="#00cbcb" stroke-width="3.6" fill="none"/>
<path d="M306.32 350.80H317.32M311.82 345.30V356.30M306.32 345.30L317.32 356.30M306.32 356.30L317.32 345.30" stroke="#00cbcb" stroke-width="3.6" fill="none"/>
<path d="M328.83 348.40H339.83M334.33 342.90V353.90M328.83 342.90L339.83 353.90M328.83 353.90L339.83 342.90" stroke="#00cbcb" stroke-width="3.6" fill="none"/>
<path d="M351.35 346.60H362.35M356.85 341.10V352.10M351.35 341.10L362.35 352.10M351.35 352.10L362.35 341.10" stroke="#00cbcb" stroke-width="3.6" fill="none"/>
<path d="M373.86 346.20H384.86M379.36 340.70V351.70M373.86 340.70L384.86 351.70M373.86 351.70L384.86 340.70" stroke="#00cbcb" stroke-width="3.6" fill="none"/>
<path d="M396.37 346.60H407.37M401.87 341.10V352.10M396.37 341.10L407.37 352.10M396.37 352.10L407.37 341.10" stroke="#00cbcb" stroke-width="3.6" fill="none"/>
<path d="M418.89 346.40H429.89M424.39 340.90V351.90M418.89 340.90L429.89 351.90M418.89 351.90L429.89 340.90" stroke="#00cbcb" stroke-width="3.6" fill="none"/>
<path d="M441.40 346.10H452.40M446.90 340.60V351.60M441.40 340.60L452.40 351.60M441.40 351.60L452.40 340.60" stroke="#00cbcb" stroke-width="3.6" fill="none"/>
<path d="M463.91 345.00H474.91M469.41 339.50V350.50M463.91 339.50L474.91 350.50M463.91 350.50L474.91 339.50" stroke="#00cbcb" stroke-width="3.6" fill="none"/>
<path d="M486.43 344.30H497.43M491.93 338.80V349.80M486.43 338.80L497.43 349.80M486.43 349.80L497.43 338.80" stroke="#00cbcb" stroke-width="3.6" fill="none"/>
<path d="M508.94 343.90H519.94M514.44 338.40V349.40M508.94 338.40L519.94 349.40M508.94 349.40L519.94 338.40" stroke="#00cbcb" stroke-width="3.6" fill="none"/>
<path d="M531.45 343.40H542.45M536.95 337.90V348.90M531.45 337.90L542.45 348.90M531.45 348.90L542.45 337.90" stroke="#00cbcb" stroke-width="3.6" fill="none"/>
<path d="M553.97 343.10H564.97M559.47 337.60V348.60M553.97 337.60L564.97 348.60M553.97 348.60L564.97 337.60" stroke="#00cbcb" stroke-width="3.6" fill="none"/>
<path d="M576.48 342.90H587.48M581.98 337.40V348.40M576.48 337.40L587.48 348.40M576.48 348.40L587.48 337.40" stroke="#00cbcb" stroke-width="3.6" fill="none"/>
<path d="M598.99 342.80H609.99M604.49 337.30V348.30M598.99 337.30L609.99 348.30M598.99 348.30L609.99 337.30" stroke="#00cbcb" stroke-width="3.6" fill="none"/>
<path d="M621.51 342.60H632.51M627.01 337.10V348.10M621.51 337.10L632.51 348.10M621.51 348.10L632.51 337.10" stroke="#00cbcb" stroke-width="3.6" fill="none"/>
<path d="M644.02 342.50H655.02M649.52 337.00V348.00M644.02 337.00L655.02 348.00M644.02 348.00L655.02 337.00" stroke="#00cbcb" stroke-width="3.6" fill="none"/>
<path d="M666.53 342.40H677.53M672.03 336.90V347.90M666.53 336.90L677.53 347.90M666.53 347.90L677.53 336.90" stroke="#00cbcb" stroke-width="3.6" fill="none"/>
<path d="M689.05 342.30H700.05M694.55 336.80V347.80M689.05 336.80L700.05 347.80M689.05 347.80L700.05 336.80" stroke="#00cbcb" stroke-width="3.6" fill="none"/>
<path d="M711.56 342.20H722.56M717.06 336.70V347.70M711.56 336.70L722.56 347.70M711.56 347.70L722.56 336.70" stroke="#00cbcb" stroke-width="3.6" fill="none"/>
<path d="M734.07 342.20H745.07M739.57 336.70V347.70M734.07 336.70L745.07 347.70M734.07 347.70L745.07 336.70" stroke="#00cbcb" stroke-width="3.6" fill="none"/>
<path d="M756.59 342.10H767.59M762.09 336.60V347.60M756.59 336.60L767.59 347.60M756.59 347.60L767.59 336.60" stroke="#00cbcb" stroke-width="3.6" fill="none"/>
<path d="M779.10 342.10H790.10M784.60 336.60V347.60M779.10 336.60L790.10 347.60M779.10 347.60L790.10 336.60" stroke="#00cbcb" stroke-width="3.6" fill="none"/>
<polyline points="109.20,390.10 131.71,407.60 154.23,383.30 176.74,369.80 199.25,359.00 221.77,350.80 244.28,346.60 266.79,350.00 289.31,358.20 311.82,360.70 334.33,357.90 356.85,355.90 379.36,356.80 401.87,360.90 424.39,365.80 446.90,370.40 469.41,373.60 491.93,374.70 514.44,375.10 536.95,374.50 559.47,374.10 581.98,373.70 604.49,373.30 627.01,372.90 649.52,372.70 672.03,372.70 694.55,372.90 717.06,373.30 739.57,373.90 762.09,374.60 784.60,375.10" fill="none" stroke="#ff00ff" stroke-width="3.6" stroke-linejoin="round"/>
<rect x="103.70" y="384.60" width="11.00" height="11.00" stroke="#ff00ff" stroke-width="3.6" fill="none"/>
<rect x="126.21" y="402.10" width="11.00" height="11.00" stroke="#ff00ff" stroke-width="3.6" fill="none"/>
<rect x="148.73" y="377.80" width="11.00" height="11.00" stroke="#ff00ff" stroke-width="3.6" fill="none"/>
<rect x="171.24" y="364.30" width="11.00" height="11.00" stroke="#ff00ff" stroke-width="3.6" fill="none"/>
<rect x="193.75" y="353.50" width="11.00" height="11.00" stroke="#ff00ff" stroke-width="3.6" fill="none"/>
<rect x="216.27" y="345.30" width="11.00" height="11.00" stroke="#ff00ff" stroke-width="3.6" fill="none"/>
<rect x="238.78" y="341.10" width="11.00" height="11.00" stroke="#ff00ff" stroke-width="3.6" fill="none"/>
<rect x="261.29" y="344.50" width="11.00" height="11.00" stroke="#ff00ff" stroke-width="3.6" fill="none"/>
<rect x="283.81" y="352.70" width="11.00" height="11.00" stroke="#ff00ff" stroke-width="3.6" fill="none"/>
<rect x="306.32" y="355.20" width="11.00" height="11.00" stroke="#ff00ff" stroke-width="3.6" fill="none"/>
<rect x="328.83" y="352.40" width="11.00" height="11.00" stroke="#ff00ff" stroke-width="3.6" fill="none"/>
<rect x="351.35" y="350.40" width="11.00" height="11.00" stroke="#ff00ff" stroke-width="3.6" fill="none"/>
<rect x="373.86" y="351.30" width="11.00" height="11.00" stroke="#ff00ff" stroke-width="3.6" fill="none"/>
<rect x="396.37" y="355.40" width="11.00" height="11.00" stroke="#ff00ff" stroke-width="3.6" fill="none"/>
<rect x="418.89" y="360.30" width="11.00" height="11.00" stroke="#ff00ff" stroke-width="3.6" fill="none"/>
<rect x="441.40" y="364.90" width="11.00" height="11.00" stroke="#ff00ff" stroke-width="3.6" fill="none"/>
<rect x="463.91" y="368.10" width="11.00" height="11.00" stroke="#ff00ff" stroke-width="3.6" fill="none"/>
<rect x="486.43" y="369.20" width="11.00" height="11.00" stroke="#ff00ff" stroke-width="3.6" fill="none"/>
<rect x="508.94" y="369.60" width="11.00" height="11.00" stroke="#ff00ff" stroke-width="3.6" fill="none"/>
<rect x="531.45" y="369.00" width="11.00" height="11.00" stroke="#ff00ff" stroke-width="3.6" fill="none"/>
<rect x="553.97" y="368.60" width="11.00" height="11.00" stroke="#ff00ff" stroke-width="3.6" fill="none"/>
<rect x="576.48" y="368.20" width="11.00" height="11.00" stroke="#ff00ff" stroke-width="3.6" fill="none"/>
<rect x="598.99" y="367.80" width="11.00" height="11.00" stroke="#ff00ff" stroke-width="3.6" fill="none"/>
<rect x="621.51" y="367.40" width="11.00" height="11.00" stroke="#ff00ff" stroke-width="3.6" fill="none"/>
<rect x="644.02" y="367.20" width="11.00" height="11.00" stroke="#ff00ff" stroke-width="3.6" fill="none"/>
<rect x="666.53" y="367.20" width="11.00" height="11.00" stroke="#ff00ff" stroke-width="3.6" fill="none"/>
<rect x="689.05" y="367.40" width="11.00" height="11.00" stroke="#ff00ff" stroke-width="3.6" fill="none"/>
<rect x="711.56" y="367.80" width="11.00" height="11.00" stroke="#ff00ff" stroke-width="3.6" fill="none"/>
<rect x="734.07" y="368.40" width="11.00" height="11.00" stroke="#ff00ff" stroke-width="3.6" fill="none"/>
<rect x="756.59" y="369.10" width="11.00" height="11.00" stroke="#ff00ff" stroke-width="3.6" fill="none"/>
<rect x="779.10" y="369.60" width="11.00" height="11.00" stroke="#ff00ff" stroke-width="3.6" fill="none"/>
</g>
<rect x="109.2" y="315.6" width="675.4" height="184.0" fill="none" stroke="#000" stroke-width="2.6"/>
<g font-family="Liberation Sans, sans-serif" font-size="25" fill="#000" opacity="0.999">
<text x="109.3" y="273.70" text-anchor="end">0</text>
<text x="109.3" y="225.80" text-anchor="end">0.2</text>
<text x="109.3" y="177.90" text-anchor="end">0.4</text>
<text x="109.3" y="130.00" text-anchor="end">0.6</text>
<text x="109.3" y="82.10" text-anchor="end">0.8</text>
<text x="109.3" y="34.20" text-anchor="end">1</text>
<text x="222.6" y="154.40">+</text>
<text x="222.6" y="177.40">X</text>
<text x="222.6" y="202.80">O</text>
<text x="222.6" y="226.10">*</text>
<text x="222.6" y="253.00">#</text>
<text x="94.4" y="327.20" text-anchor="end">10<tspan font-size="21" dx="0.3" dy="-13.2">-1</tspan></text>
<text x="94.4" y="419.20" text-anchor="end">10<tspan font-size="21" dx="0.3" dy="-13.2">-2</tspan></text>
<text x="94.4" y="511.20" text-anchor="end">10<tspan font-size="21" dx="0.3" dy="-13.2">-3</tspan></text>
<text x="109.20" y="533.6" text-anchor="middle">0</text>
<text x="221.77" y="533.6" text-anchor="middle">5</text>
<text x="334.33" y="533.6" text-anchor="middle">10</text>
<text x="446.90" y="533.6" text-anchor="middle">15</text>
<text x="559.47" y="533.6" text-anchor="middle">20</text>
<text x="672.03" y="533.6" text-anchor="middle">25</text>
<text x="784.60" y="533.6" text-anchor="middle">30</text>
<text x="446.90" y="571.6" text-anchor="middle">STRAIN [%]</text>
<text transform="translate(32.8,145.05) rotate(-90)" text-anchor="middle">CORRELATION</text>
<text transform="translate(32.8,407.60) rotate(-90)" text-anchor="middle">ERROR</text>
</g>
</svg>
</body></html>
